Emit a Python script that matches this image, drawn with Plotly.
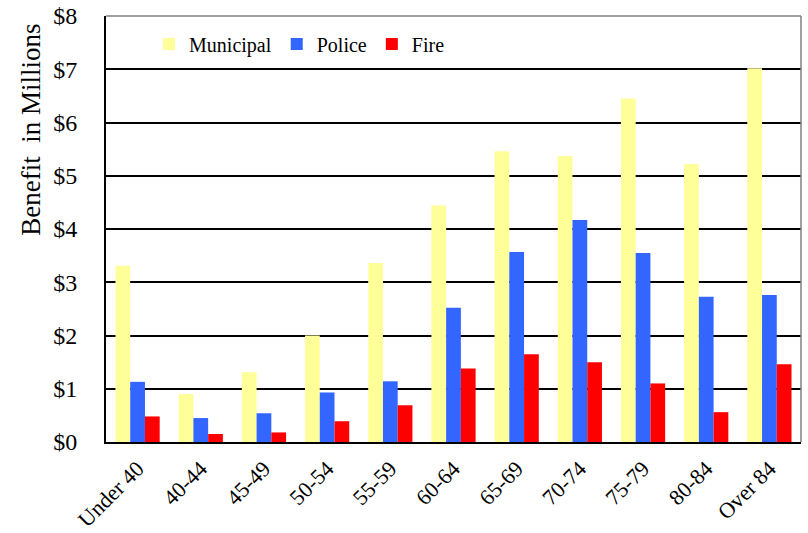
import plotly.graph_objects as go

categories = ["Under 40", "40-44", "45-49", "50-54", "55-59", "60-64",
              "65-69", "70-74", "75-79", "80-84", "Over 84"]
municipal = [3.31, 0.90, 1.31, 2.00, 3.36, 4.44, 5.46, 5.37, 6.45, 5.22, 7.02]
police = [1.13, 0.45, 0.54, 0.93, 1.14, 2.52, 3.57, 4.17, 3.55, 2.73, 2.76]
fire = [0.48, 0.15, 0.18, 0.39, 0.69, 1.38, 1.65, 1.50, 1.10, 0.56, 1.46]

FONT = "Liberation Serif"

fig = go.Figure()
fig.add_trace(go.Bar(name="Municipal", x=categories, y=municipal,
                     marker=dict(color="#FFFF99", line=dict(width=0))))
fig.add_trace(go.Bar(name="Police", x=categories, y=police,
                     marker=dict(color="#3366FF", line=dict(width=0))))
fig.add_trace(go.Bar(name="Fire", x=categories, y=fire,
                     marker=dict(color="#FF0000", line=dict(width=0))))

fig.update_layout(
    width=808, height=533,
    margin=dict(l=106, r=7, t=16, b=91),
    paper_bgcolor="white", plot_bgcolor="white",
    barmode="group", bargap=0.3, bargroupgap=0,
    font=dict(family=FONT, color="black"),
    showlegend=True,
    legend=dict(orientation="h", x=0.062, y=0.934, xanchor="left", yanchor="middle",
                font=dict(family=FONT, size=20), bgcolor="rgba(0,0,0,0)",
                tracegroupgap=0),
    xaxis=dict(showline=True, linecolor="black", linewidth=2, automargin=False,
               tickangle=-45, tickfont=dict(family=FONT, size=22),
               ticks="", showgrid=False, ticklabelstandoff=3),
    yaxis=dict(range=[0, 8], dtick=1, tickprefix="$", automargin=False,
               showline=True, linecolor="black", linewidth=2,
               showgrid=True, gridcolor="black", gridwidth=1.5,
               tickfont=dict(family=FONT, size=24), ticks="",
               ticklabelstandoff=22, zeroline=False),
    annotations=[dict(text="Benefit  in Millions", textangle=-90,
                      xref="paper", yref="paper", x=-0.107, y=0.732,
                      xanchor="center", yanchor="middle", showarrow=False,
                      font=dict(family=FONT, size=27))],
    shapes=[
        dict(type="line", xref="paper", yref="paper", x0=0, x1=1, y0=1, y1=1,
             line=dict(color="#808080", width=1.5)),
        dict(type="line", xref="paper", yref="paper", x0=1, x1=1, y0=0, y1=1,
             line=dict(color="#808080", width=1.5)),
    ],
)

fig.write_html("out.html", config={"displayModeBar": False},
               post_script="document.body.style.margin='0';")
